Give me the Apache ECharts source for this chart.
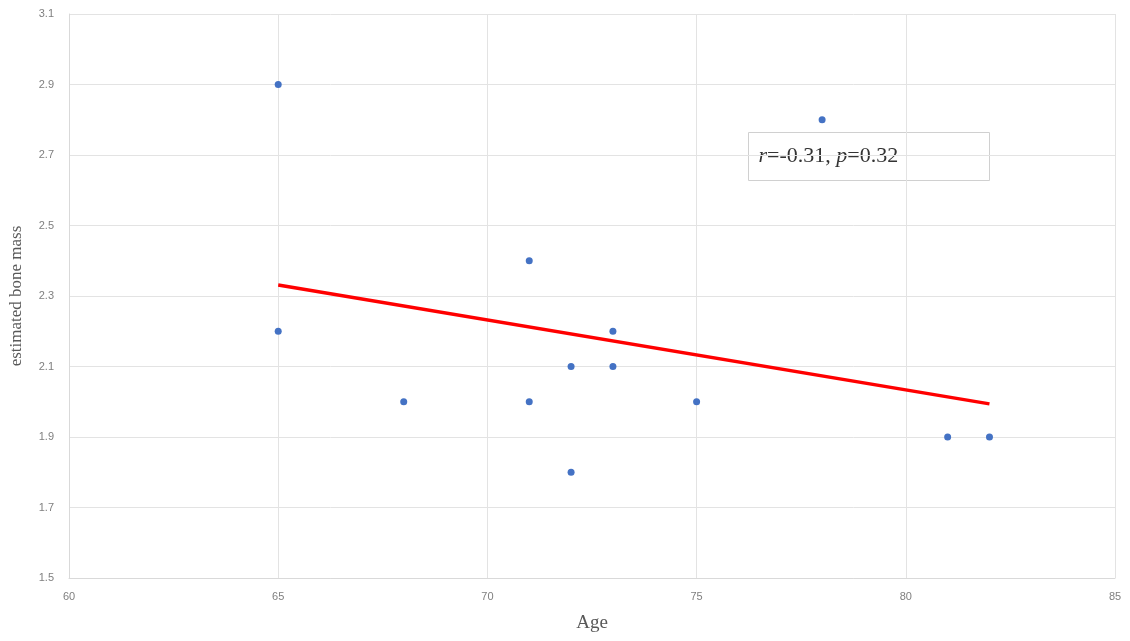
<!DOCTYPE html>
<html>
<head>
<meta charset="utf-8">
<script src="https://cdn.jsdelivr.net/npm/echarts@6/dist/echarts.min.js"></script>
<style>html,body{margin:0;padding:0;background:#fff}#c{width:1130px;height:641px}</style>
</head>
<body>
<div id="c"></div>
<script>
var ages = [65, 65, 68, 71, 71, 72, 72, 73, 73, 75, 78, 81, 82];
var boneMass = [2.9, 2.2, 2.0, 2.4, 2.0, 2.1, 1.8, 2.2, 2.1, 2.0, 2.8, 1.9, 1.9];
var trendX = [65, 82];
var trendY = [2.331, 1.994];
var xTicks = [60, 65, 70, 75, 80, 85];
var yTicks = [1.5, 1.7, 1.9, 2.1, 2.3, 2.5, 2.7, 2.9, 3.1];
var statText = ['r', '=-0.31, ', 'p', '=0.32'];

var chart = echarts.init(document.getElementById('c'));
var pts = ages.map(function (a, i) { return [a, boneMass[i]]; });
var trend = trendX.map(function (a, i) { return [a, trendY[i]]; });
chart.setOption({
  animation: false,
  backgroundColor: '#fff',
  grid: { left: 68, right: 15, top: 14, bottom: 63 },
  xAxis: {
    type: 'value', min: 60, max: 85, interval: 5,
    name: 'Age', nameLocation: 'middle', nameGap: 36,
    nameTextStyle: { fontFamily: 'Liberation Serif', fontSize: 19, color: '#595959' },
    axisLine: { show: true, lineStyle: { color: '#d9d9d9' } },
    axisTick: { show: false },
    axisLabel: { color: '#7f7f7f', fontSize: 11, fontFamily: 'Liberation Sans', margin: 13,
      formatter: function (v) { return xTicks.indexOf(v) >= 0 ? String(v) : ''; } },
    splitLine: { show: true, lineStyle: { color: '#e3e3e3' } }
  },
  yAxis: {
    type: 'value', min: 1.5, max: 3.1, interval: 0.2,
    name: 'estimated bone mass', nameLocation: 'middle', nameGap: 44,
    nameTextStyle: { fontFamily: 'Liberation Serif', fontSize: 17, color: '#595959' },
    axisLine: { show: true, lineStyle: { color: '#d9d9d9' } },
    axisTick: { show: false },
    axisLabel: { color: '#7f7f7f', fontSize: 11, fontFamily: 'Liberation Sans', margin: 15,
      formatter: function (v) {
        var s = v.toFixed(1);
        return yTicks.map(function (t) { return t.toFixed(1); }).indexOf(s) >= 0 ? s : '';
      } },
    splitLine: { show: true, lineStyle: { color: '#e3e3e3' } }
  },
  series: [
    { type: 'line', data: trend, symbol: 'none', lineStyle: { color: '#ff0000', width: 3.5 }, z: 2 },
    { type: 'scatter', data: pts, symbolSize: 7, itemStyle: { color: '#4472c4', opacity: 1 }, z: 3 }
  ],
  graphic: [{
    type: 'group', left: 748, top: 132,
    children: [
      { type: 'rect', shape: { x: 0, y: 0, width: 241, height: 48 },
        style: { fill: '#fff', stroke: '#d0d0d0', lineWidth: 1 } },
      { type: 'text', x: 10, y: 24,
        style: {
          text: '{i|' + statText[0] + '}{n|' + statText[1] + '}{i|' + statText[2] + '}{n|' + statText[3] + '}',
          verticalAlign: 'middle',
          rich: {
            i: { fontFamily: 'Liberation Serif', fontStyle: 'italic', fontSize: 22, fill: '#333333' },
            n: { fontFamily: 'Liberation Serif', fontSize: 22, fill: '#333333' }
          }
        } }
    ]
  }]
});
</script>
</body>
</html>
